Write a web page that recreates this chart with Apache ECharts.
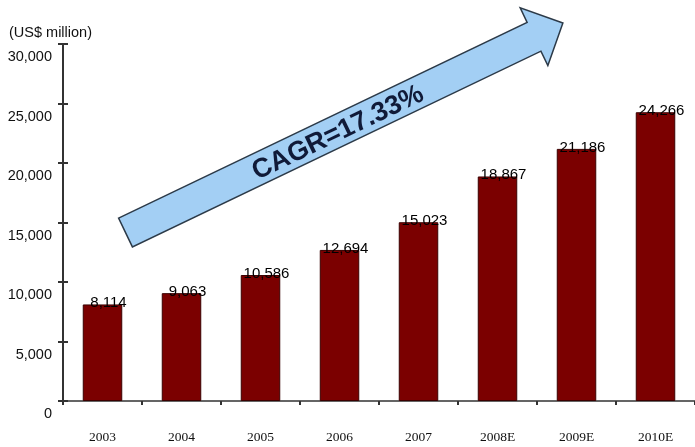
<!DOCTYPE html>
<html>
<head>
<meta charset="utf-8">
<style>
  html, body { margin: 0; padding: 0; background: #fff; }
  #chart { width: 695px; height: 447px; }
</style>
<script src="https://cdn.jsdelivr.net/npm/echarts@6/dist/echarts.min.js"></script>
</head>
<body>
<div id="chart"></div>
<script>
// Revenue by year, US$ million (E = estimate)
const years = ['2003', '2004', '2005', '2006', '2007', '2008E', '2009E', '2010E'];
const revenue = [8114, 9063, 10586, 12694, 15023, 18867, 21186, 24266];
const unitLabel = '(US$ million)';
const growthLabel = 'CAGR=17.33%';

const chart = echarts.init(document.getElementById('chart'));

// Growth arrow drawn as a polygon in pixel space, pointing up-right
const ang = 25.6 * Math.PI / 180;
const u = [Math.cos(ang), -Math.sin(ang)];
const n = [Math.sin(ang), Math.cos(ang)];
const tail = [125.5, 232.5];
const len = 485, headLen = 32, shaftHalf = 16, headHalf = 32;
const at = (d, w) => [tail[0] + u[0] * d + n[0] * w, tail[1] + u[1] * d + n[1] * w];
const arrowPts = [
  at(0, -shaftHalf),
  at(len - headLen, -shaftHalf),
  at(len - headLen, -headHalf),
  at(len, 0),
  at(len - headLen, headHalf),
  at(len - headLen, shaftHalf),
  at(0, shaftHalf)
];

const axisColor = '#333';

chart.setOption({
  animation: false,
  backgroundColor: '#fff',
  grid: { left: 63, right: 0, top: 44, bottom: 46 },
  xAxis: {
    type: 'category',
    data: years,
    axisLine: { lineStyle: { color: axisColor, width: 1.5 } },
    axisTick: { show: true, length: 4, lineStyle: { color: axisColor, width: 2 } },
    axisLabel: {
      margin: 29,
      fontFamily: '"Liberation Serif", "Times New Roman", serif',
      fontSize: 13.5,
      color: '#111'
    }
  },
  yAxis: [{
    type: 'value',
    min: 0,
    max: 30000,
    interval: 5000,
    splitLine: { show: false },
    axisLine: { show: true, lineStyle: { color: axisColor, width: 2 } },
    axisTick: { show: true, length: 5, lineStyle: { color: axisColor, width: 2 } },
    axisLabel: {
      margin: 11,
      lineHeight: 26,
      fontFamily: '"Liberation Sans", Arial, sans-serif',
      fontSize: 14.5,
      color: '#111',
      // blank first line drops each label just below its tick
      formatter: v => '\n' + v.toLocaleString('en-US')
    }
  }, {
    type: 'value',
    position: 'left',
    min: 0,
    max: 30000,
    interval: 5000,
    splitLine: { show: false },
    axisLine: { show: false },
    axisTick: { show: true, inside: true, length: 5, lineStyle: { color: axisColor, width: 2 } },
    axisLabel: { show: false }
  }],
  series: [{
    type: 'bar',
    data: revenue,
    barWidth: '50%',
    itemStyle: { color: '#7b0000', borderColor: '#3a0000', borderWidth: 1 },
    label: {
      show: true,
      position: 'top',
      distance: -6,
      offset: [6, 0],
      fontFamily: '"Liberation Sans", Arial, sans-serif',
      fontSize: 15,
      color: '#000',
      formatter: p => p.value.toLocaleString('en-US')
    }
  }],
  graphic: [
    {
      type: 'text',
      left: 9,
      top: 25,
      style: {
        text: unitLabel,
        fontFamily: '"Liberation Sans", Arial, sans-serif',
        fontSize: 14.5,
        fill: '#111'
      }
    },
    {
      type: 'polygon',
      shape: { points: arrowPts },
      style: { fill: '#a3cff4', stroke: '#2c3a48', lineWidth: 1.5 },
      z: 10
    },
    {
      type: 'text',
      x: 338,
      y: 133,
      rotation: ang,
      style: {
        text: growthLabel,
        align: 'center',
        verticalAlign: 'middle',
        fontFamily: '"Liberation Sans", Arial, sans-serif',
        fontWeight: 'bold',
        fontSize: 27,
        fill: '#101a38'
      },
      z: 11
    }
  ]
});
</script>
</body>
</html>
